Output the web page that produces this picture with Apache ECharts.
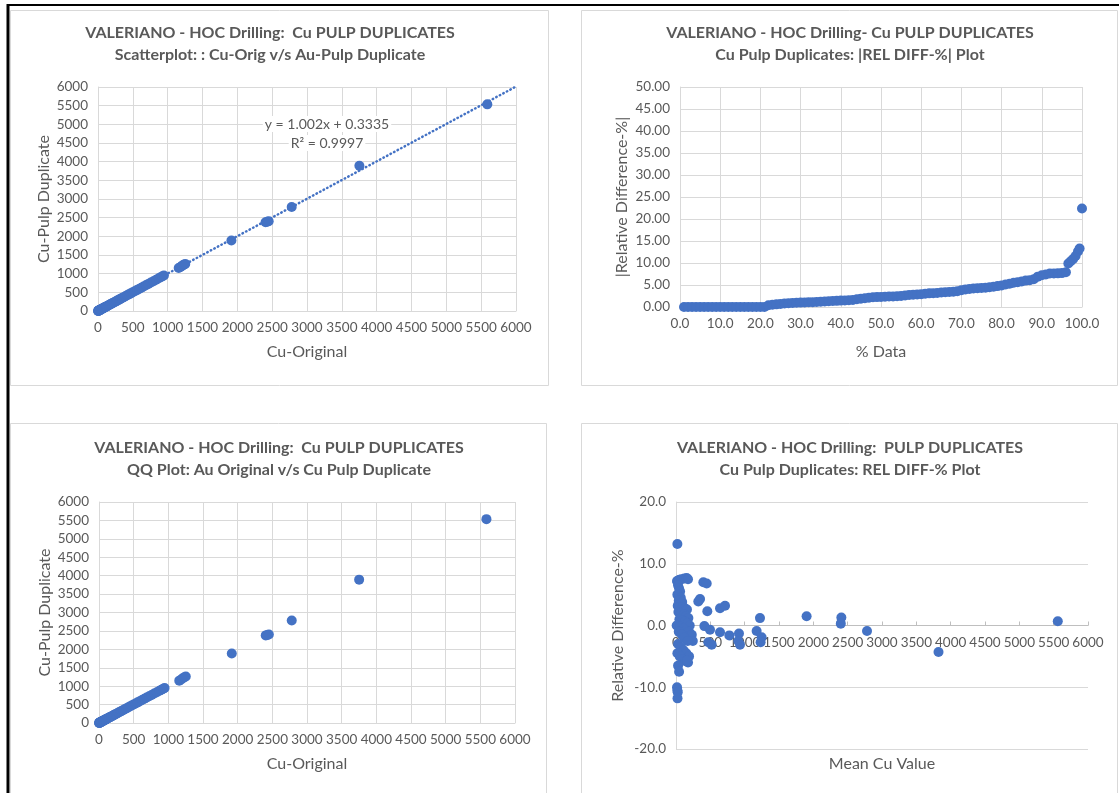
<!DOCTYPE html>
<html>
<head>
<meta charset="utf-8">
<script src="https://cdn.jsdelivr.net/npm/echarts@6/dist/echarts.min.js"></script>
<style>
html,body{margin:0;padding:0;background:#fff;}
#c{width:1119px;height:793px;}
</style>
</head>
<body>
<div id="c"></div>
<script>
// ---------- DATA ----------
// Scatter / QQ: Cu original vs Cu pulp duplicate
const cuOriginal = [2,4,6,8,11,13,15,18,21,24,27,31,35,39,43,48,53,58,64,70,76,83,91,99,107,116,126,136,147,159,171,184,198,213,229,246,264,283,303,324,346,369,393,418,444,471,499,528,558,589,621,654,688,723,759,796,834,872,900,926,946,1158,1185,1208,1232,1252,1915,2405,2428,2450,2780,3752,5588];
const cuPulpDup  = [2,4,6,9,11,13,16,18,22,24,28,31,36,39,44,48,54,58,65,70,77,84,92,99,108,117,127,137,148,160,172,185,199,214,231,247,265,285,305,326,348,371,395,421,446,473,501,531,560,591,624,656,691,726,761,799,837,876,903,929,949,1150,1180,1215,1242,1262,1888,2378,2392,2405,2785,3892,5535];
// Linear trendline (from the reference): y = 1.002x + 0.3335, R^2 = 0.9997
const trendSlope = 1.002;
const trendIntercept = 0.3335;
const trendLabel = ['y = 1.002x + 0.3335', 'R\u00b2 = 0.9997'];

// |REL DIFF-%| vs % Data (sorted)
const pctData = [1,2,3,4,5,6,7,8,9,10,11,12,13,14,15,16,17,18,19,20,21,22,23,24,25,26,27,28,29,30,31,32,33,34,35,36,37,38,39,40,41,42,43,44,45,46,47,48,49,50,51,52,53,54,55,56,57,58,59,60,61,62,63,64,65,66,67,68,69,70,71,72,73,74,75,76,77,78,79,80,81,82,83,84,85,86,87,88,89,90,91,92,93,94,95,96,96.6,97.2,97.8,98.4,99.0,99.4,100];
const absRelDiff = [0,0,0,0,0,0,0,0,0,0,0,0,0,0,0,0,0,0,0,0,0,0.4,0.5,0.6,0.7,0.8,0.85,0.9,0.95,1.0,1.05,1.1,1.1,1.15,1.2,1.25,1.3,1.35,1.4,1.45,1.5,1.55,1.6,1.75,1.9,2.0,2.1,2.2,2.25,2.3,2.35,2.4,2.4,2.45,2.5,2.6,2.75,2.8,2.85,2.9,3.0,3.1,3.15,3.2,3.3,3.35,3.4,3.45,3.6,3.8,4.0,4.1,4.2,4.25,4.3,4.4,4.5,4.6,4.75,4.9,5.1,5.3,5.5,5.65,5.8,6.0,6.1,6.3,6.9,7.2,7.4,7.6,7.6,7.65,7.7,7.9,9.9,10.4,10.9,11.6,12.6,13.3,22.4];

// REL DIFF-% vs Mean Cu value
const meanCu = [20,15,25,35,50,80,120,155,175,30,45,60,20,70,40,90,25,55,100,130,160,35,75,115,145,180,50,95,130,165,200,10,60,110,150,190,230,245,40,85,120,170,30,70,110,150,190,20,55,95,140,175,160,30,45,15,20,25,22,
  398,447,350,325,456,413,495,471,519,641,714,641,777,917,907,932,1223,1174,1247,1232,1902,2408,2400,2782,3823,5560];
const relDiffPct = [13.2,7.2,7.0,7.3,7.4,7.5,7.6,7.7,7.5,6.5,6.0,5.5,5.0,4.5,4.0,3.8,3.2,3.0,3.0,2.8,2.6,2.2,2.0,1.8,1.5,1.2,1.0,0.8,0.6,0.3,0.0,0.0,-0.2,-0.5,-0.8,-1.0,-1.5,-2.5,-1.0,-1.5,-2.0,-2.5,-3.0,-3.5,-4.0,-4.5,-5.0,-4.5,-5.0,-5.5,-5.8,-6.0,-5.7,-6.5,-7.5,-10.0,-10.5,-10.8,-11.8,
  7.0,6.8,4.3,3.9,2.3,-0.1,-0.7,-2.7,-3.1,2.8,3.2,-1.1,-1.6,-1.3,-2.5,-3.1,1.2,-0.9,-1.9,-2.7,1.5,1.3,0.3,-0.9,-4.3,0.7];

// ---------- BUILD ----------
const pairs = (xs, ys) => xs.map((x, i) => [x, ys[i]]);
const sortedOrig = cuOriginal.slice().sort((a, b) => a - b);
const sortedDup = cuPulpDup.slice().sort((a, b) => a - b);

const BLUE = '#4472c4';
const TXT = '#595959';
const GRID = '#d9d9d9';
const FONT = 'Lato, "Open Sans", sans-serif';
const TICK_FS = 13.5;
const NAME_FS = 16;

function valueAxis(gi, min, max, interval, dec, extra) {
  return Object.assign({
    type: 'value', gridIndex: gi, min: min, max: max, interval: interval,
    axisLine: { show: true, onZero: false, lineStyle: { color: GRID, width: 1 } },
    axisTick: { show: false },
    splitLine: { show: true, lineStyle: { color: GRID, width: 1 } },
    axisLabel: { color: TXT, fontSize: TICK_FS, fontFamily: FONT, margin: 10,
      formatter: v => dec == null ? String(v) : v.toFixed(dec) },
    nameLocation: 'middle',
    nameTextStyle: { color: TXT, fontSize: NAME_FS, fontFamily: FONT }
  }, extra || {});
}

const titleStyle = { color: TXT, fontSize: 16, fontWeight: 'bold', fontFamily: FONT, lineHeight: 22 };

const option = {
  backgroundColor: '#fff',
  animation: false,
  title: [
    { text: 'VALERIANO - HOC Drilling:  Cu PULP DUPLICATES\nScatterplot: : Cu-Orig v/s Au-Pulp Duplicate', left: 270, top: 22, padding: 0, textAlign: 'center', textStyle: titleStyle },
    { text: 'VALERIANO - HOC Drilling- Cu PULP DUPLICATES\nCu Pulp Duplicates: |REL DIFF-%| Plot', left: 850, top: 22, padding: 0, textAlign: 'center', textStyle: titleStyle },
    { text: 'VALERIANO - HOC Drilling:  Cu PULP DUPLICATES\nQQ Plot: Au Original v/s Cu Pulp Duplicate', left: 279, top: 437, padding: 0, textAlign: 'center', textStyle: titleStyle },
    { text: 'VALERIANO - HOC Drilling:  PULP DUPLICATES\nCu Pulp Duplicates: REL DIFF-% Plot', left: 850, top: 437, padding: 0, textAlign: 'center', textStyle: titleStyle }
  ],
  grid: [
    { left: 98, top: 87, width: 418, height: 224 },
    { left: 680, top: 87, width: 402, height: 220 },
    { left: 99, top: 502, width: 416, height: 221 },
    { left: 676, top: 502, width: 412, height: 247 }
  ],
  xAxis: [
    valueAxis(0, 0, 6000, 500, null, { name: 'Cu-Original', nameGap: 33 }),
    valueAxis(1, 0, 100, 10, 1, { name: '% Data', nameGap: 37 }),
    valueAxis(2, 0, 6000, 500, null, { name: 'Cu-Original', nameGap: 33 }),
    valueAxis(3, 0, 6000, 500, null, {
      offset: -123.5,
      splitLine: { show: false },
      axisTick: { show: true, inside: true, length: 4, lineStyle: { color: '#bfbfbf' } },
      axisLine: { show: true, onZero: false, lineStyle: { color: '#bfbfbf', width: 1 } },
      axisLabel: { color: TXT, fontSize: TICK_FS, fontFamily: FONT, margin: 10, formatter: v => String(v) }
    })
  ],
  yAxis: [
    valueAxis(0, 0, 6000, 500, null, { name: 'Cu-Pulp Duplicate', nameGap: 46 }),
    valueAxis(1, 0, 50, 5, 2, { name: '|Relative Difference-%|', nameGap: 50 }),
    valueAxis(2, 0, 6000, 500, null, { name: 'Cu-Pulp Duplicate', nameGap: 46 }),
    valueAxis(3, -20, 20, 10, 1, { name: 'Relative Difference-%', nameGap: 50 })
  ],
  graphic: [
    { type: 'rect', shape: { x: 10.5, y: 10.5, width: 538, height: 375 }, style: { fill: 'none', stroke: GRID, lineWidth: 1 }, z: -1 },
    { type: 'rect', shape: { x: 581.5, y: 10.5, width: 536, height: 375 }, style: { fill: 'none', stroke: GRID, lineWidth: 1 }, z: -1 },
    { type: 'rect', shape: { x: 10.5, y: 423.5, width: 536, height: 400 }, style: { fill: 'none', stroke: GRID, lineWidth: 1 }, z: -1 },
    { type: 'rect', shape: { x: 581.5, y: 423.5, width: 536, height: 400 }, style: { fill: 'none', stroke: GRID, lineWidth: 1 }, z: -1 },
    { type: 'line', shape: { x1: 8, y1: 5, x2: 1119, y2: 5 }, style: { stroke: '#000', lineWidth: 2 } },
    { type: 'line', shape: { x1: 8, y1: 4, x2: 8, y2: 793 }, style: { stroke: '#000', lineWidth: 3 } },
    { type: 'text', x: 327, y: 124, z: 10, style: { text: trendLabel[0], fill: TXT, font: '14px ' + FONT, align: 'center', verticalAlign: 'middle', backgroundColor: '#fff', padding: [1, 2] } },
    { type: 'text', x: 327, y: 143, z: 10, style: { text: trendLabel[1], fill: TXT, font: '14px ' + FONT, align: 'center', verticalAlign: 'middle', backgroundColor: '#fff', padding: [1, 2] } },
    { type: 'text', x: 882, y: 764, style: { text: 'Mean Cu Value', fill: TXT, font: NAME_FS + 'px ' + FONT, align: 'center', verticalAlign: 'middle' } }
  ],
  series: [
    { type: 'line', xAxisIndex: 0, yAxisIndex: 0, symbol: 'none', clip: true, silent: true,
      data: [[0, trendIntercept], [6000, trendSlope * 6000 + trendIntercept]],
      lineStyle: { color: BLUE, width: 2.5, type: [0.5, 3.5], cap: 'round' }, z: 1 },
    { type: 'scatter', xAxisIndex: 0, yAxisIndex: 0, symbolSize: 10, itemStyle: { color: BLUE, opacity: 1 },
      data: pairs(cuOriginal, cuPulpDup), z: 2 },
    { type: 'scatter', xAxisIndex: 1, yAxisIndex: 1, symbolSize: 10, itemStyle: { color: BLUE, opacity: 1 },
      data: pairs(pctData, absRelDiff) },
    { type: 'scatter', xAxisIndex: 2, yAxisIndex: 2, symbolSize: 10, itemStyle: { color: BLUE, opacity: 1 },
      data: pairs(sortedOrig, sortedDup) },
    { type: 'scatter', xAxisIndex: 3, yAxisIndex: 3, symbolSize: 10, itemStyle: { color: BLUE, opacity: 1 },
      data: pairs(meanCu, relDiffPct) }
  ]
};

const chart = echarts.init(document.getElementById('c'));
chart.setOption(option);
</script>
</body>
</html>
